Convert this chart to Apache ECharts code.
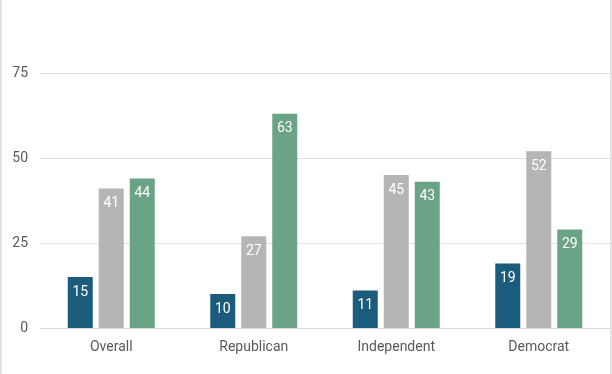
<!DOCTYPE html>
<html><head><meta charset="utf-8">
<script src="https://cdn.jsdelivr.net/npm/echarts@6/dist/echarts.min.js"></script>
<style>
html,body{margin:0;padding:0;background:#fff;}
#c{width:612px;height:374px;box-sizing:border-box;border-left:2px solid #e3e3e3;border-right:2px solid #e3e3e3;}
</style></head>
<body><div id="c"></div>
<script>
const categories = ['Overall', 'Republican', 'Independent', 'Democrat'];
const seriesA = [15, 10, 11, 19];
const seriesB = [41, 27, 45, 52];
const seriesC = [44, 63, 43, 29];
const yTicks = [0, 25, 50, 75];
const colors = ['#1b5b7c', '#b5b5b5', '#6ba386'];

const chart = echarts.init(document.getElementById('c'), null, {renderer: 'canvas'});
const lbl = {show: true, position: 'insideTop', color: '#fff', fontSize: 14, fontFamily: 'Roboto', distance: 8};
function mk(name, data, color) {
  return {name, type: 'bar', data, barWidth: 25, barGap: '24%', itemStyle: {color}, label: lbl};
}
chart.setOption({
  animation: false,
  grid: {left: 38, right: 0, top: 73, bottom: 46},
  xAxis: {
    type: 'category', data: categories,
    axisLine: {lineStyle: {color: '#d9d9d9'}}, axisTick: {show: false},
    axisLabel: {color: '#595959', fontSize: 14, fontFamily: 'Roboto', margin: 12}
  },
  yAxis: {
    type: 'value', min: yTicks[0], max: yTicks[yTicks.length - 1], interval: 25,
    axisLabel: {color: '#595959', fontSize: 14, fontFamily: 'Roboto', margin: 12},
    splitLine: {lineStyle: {color: '#e3e3e3'}},
    axisLine: {show: false}, axisTick: {show: false}
  },
  series: [mk('A', seriesA, colors[0]), mk('B', seriesB, colors[1]), mk('C', seriesC, colors[2])]
});
</script></body></html>
